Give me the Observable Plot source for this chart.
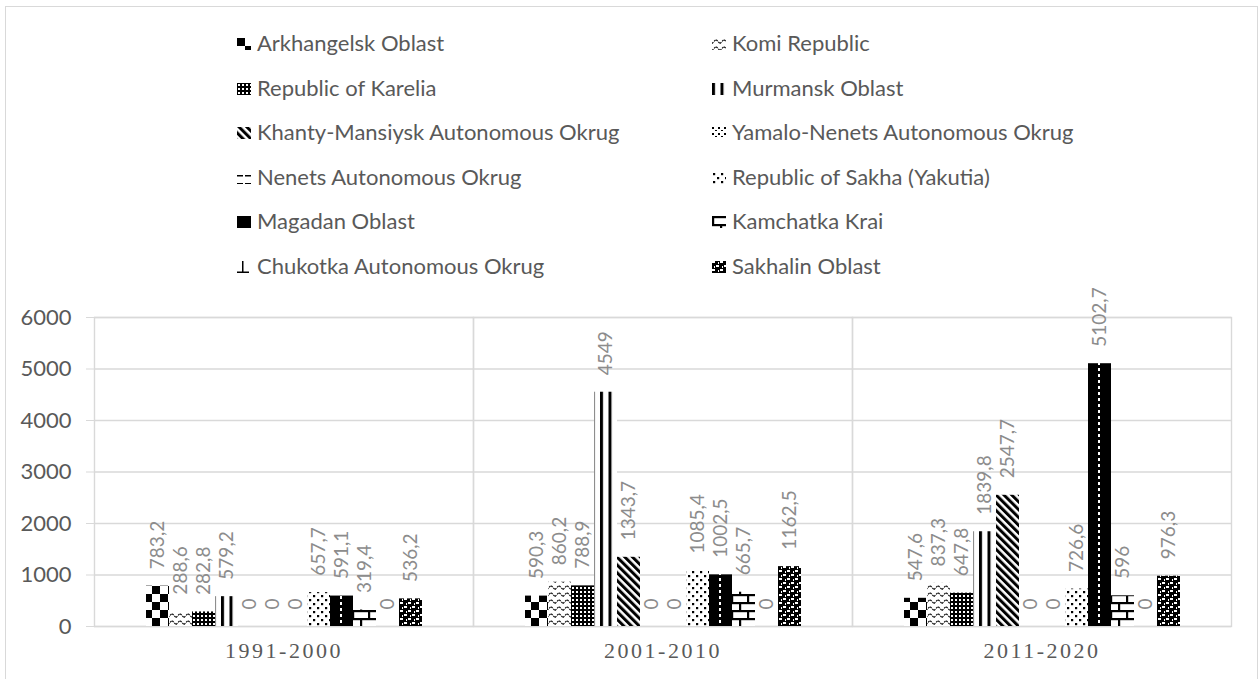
<!DOCTYPE html>
<html>
<head>
<meta charset="utf-8">
<script src="https://cdn.jsdelivr.net/npm/d3@7"></script>
<script src="https://cdn.jsdelivr.net/npm/@observablehq/plot@0.6"></script>
<style>
  html, body { margin: 0; padding: 0; background: #fff; overflow: hidden; }
  #frame { position: absolute; left: 5px; top: 6px; width: 1253px; height: 700px; border: 1.5px solid #d9d9d9; box-sizing: border-box; }
  #legend { position: absolute; left: 0; top: 0; width: 1260px; height: 290px; font-family: Lato, "Open Sans", sans-serif; color: #595959; }
  .item { position: absolute; white-space: nowrap; font-size: 22px; line-height: 1; }
  .item svg { position: absolute; }
  #chart { position: absolute; left: 0; top: 290px; }
  #chart [aria-label="fx-axis tick label"] text { letter-spacing: 2.5px; }
</style>
</head>
<body>
<div id="frame"></div>
<svg id="defs" width="0" height="0" style="position:absolute">
  <defs>
    <pattern id="pat0" patternUnits="userSpaceOnUse" width="16" height="16">
      <rect width="16" height="16" fill="#fff"/>
      <rect x="0" y="0" width="8" height="8" fill="#000"/>
      <rect x="8" y="8" width="8" height="8" fill="#000"/>
    </pattern>
    <pattern id="pat1" patternUnits="userSpaceOnUse" width="8" height="7">
      <rect width="8" height="7" fill="#fff"/>
      <path d="M0,5.5 L4,1.5 L8,5.5" fill="none" stroke="#000" stroke-width="1.1" stroke-dasharray="2,1"/>
    </pattern>
    <pattern id="pat2" patternUnits="userSpaceOnUse" width="4" height="4">
      <rect width="4" height="4" fill="#000"/>
      <rect x="1" y="1" width="2" height="2" fill="#fff"/>
    </pattern>
    <pattern id="pat3" patternUnits="userSpaceOnUse" width="8.5" height="8">
      <rect width="8.5" height="8" fill="#fff"/>
      <rect x="0" y="0" width="3" height="8" fill="#000"/>
    </pattern>
    <pattern id="pat4" patternUnits="userSpaceOnUse" width="5.5" height="10" patternTransform="rotate(-45)">
      <rect width="5.5" height="10" fill="#fff"/>
      <rect x="0" y="0" width="3" height="10" fill="#000"/>
    </pattern>
    <pattern id="pat5" patternUnits="userSpaceOnUse" width="6" height="6">
      <rect width="6" height="6" fill="#fff"/>
      <rect x="0" y="0" width="2" height="2" fill="#000"/>
      <rect x="3" y="3" width="2" height="1" fill="#000"/>
    </pattern>
    <pattern id="pat6" patternUnits="userSpaceOnUse" width="8" height="8">
      <rect width="8" height="8" fill="#fff"/>
      <rect x="0" y="3" width="6" height="1.5" fill="#000"/>
    </pattern>
    <pattern id="pat7" patternUnits="userSpaceOnUse" width="8" height="8">
      <rect width="8" height="8" fill="#fff"/>
      <rect x="1" y="1" width="2.2" height="2.2" fill="#000"/>
      <rect x="5" y="5" width="2.2" height="2.2" fill="#000"/>
    </pattern>
    <pattern id="pat8" patternUnits="userSpaceOnUse" width="18" height="6" x="16">
      <rect width="18" height="6" fill="#000"/>
      <rect x="0" y="0" width="2" height="3" fill="#fff"/>
    </pattern>
    <pattern id="pat9" patternUnits="userSpaceOnUse" width="16" height="16">
      <rect width="16" height="16" fill="#fff"/>
      <rect x="0" y="0" width="16" height="2.2" fill="#000"/>
      <rect x="0" y="8" width="16" height="2.2" fill="#000"/>
      <rect x="0" y="0" width="2.2" height="8" fill="#000"/>
      <rect x="8" y="8" width="2.2" height="8" fill="#000"/>
    </pattern>
    <pattern id="pat10" patternUnits="userSpaceOnUse" width="14" height="12">
      <rect width="14" height="12" fill="#fff"/>
      <rect x="5" y="0" width="1.5" height="11" fill="#000"/>
      <rect x="0" y="10.5" width="12" height="1.5" fill="#000"/>
    </pattern>
    <pattern id="pat11" patternUnits="userSpaceOnUse" width="8" height="8">
      <rect width="8" height="8" fill="#000"/>
      <rect x="0" y="0" width="3" height="2" fill="#fff"/>
      <rect x="4" y="4" width="3" height="2" fill="#fff"/>
      <rect x="6" y="1" width="1" height="2" fill="#fff"/>
      <rect x="2" y="5" width="1" height="2" fill="#fff"/>
    </pattern>
  </defs>
</svg>
<div id="legend"></div>
<div id="chart"></div>
<script>
const periods = ["1991-2000", "2001-2010", "2011-2020"];
const regions = [
  "Arkhangelsk Oblast", "Komi Republic", "Republic of Karelia", "Murmansk Oblast",
  "Khanty-Mansiysk Autonomous Okrug", "Yamalo-Nenets Autonomous Okrug",
  "Nenets Autonomous Okrug", "Republic of Sakha (Yakutia)", "Magadan Oblast",
  "Kamchatka Krai", "Chukotka Autonomous Okrug", "Sakhalin Oblast"
];
const values1991 = [783.2, 288.6, 282.8, 579.2, 0, 0, 0, 657.7, 591.1, 319.4, 0, 536.2];
const values2001 = [590.3, 860.2, 788.9, 4549, 1343.7, 0, 0, 1085.4, 1002.5, 665.7, 0, 1162.5];
const values2011 = [547.6, 837.3, 647.8, 1839.8, 2547.7, 0, 0, 726.6, 5102.7, 596, 0, 976.3];
const yTicks = [0, 1000, 2000, 3000, 4000, 5000, 6000];

const series = [values1991, values2001, values2011];
const data = [];
periods.forEach((p, pi) => regions.forEach((r, ri) => data.push({period: p, region: r, ri, value: series[pi][ri]})));
const fmt = v => String(v).replace(".", ",");

// Legend (two columns, row-major order)
const legend = d3.select("#legend");
regions.forEach((r, i) => {
  const col = i % 2, row = Math.floor(i / 2);
  const sx = col === 0 ? 237 : 712;
  const tx = col === 0 ? 257 : 732;
  const base = 52 + row * 44.5;
  const item = legend.append("div").attr("class", "item")
    .style("left", sx + "px").style("top", (base - 22) + "px").style("height", "26px");
  item.append("svg").attr("width", 14).attr("height", 12)
    .style("left", "0px").style("top", "8px")
    .append("rect").attr("width", 14).attr("height", 12).attr("fill", `url(#pat${i})`);
  item.append("span").style("position", "absolute").style("left", (tx - sx) + "px").style("top", "2px").text(r);
});

const marks = [
  Plot.gridY(yTicks, {stroke: "#d9d9d9", strokeOpacity: 1, strokeWidth: 1.4}),
  Plot.frame({stroke: "#d9d9d9", strokeWidth: 1.4}),
  Plot.axisY(yTicks, {tickSize: 8, stroke: "#d9d9d9", strokeOpacity: 1, color: "#595959", tickPadding: 15, fontSize: 22, fontFamily: "Lato, sans-serif", label: null, tickFormat: d => String(d)}),
  Plot.axisFx({anchor: "bottom", tickSize: 0, tickPadding: 16, fontSize: 22, fontFamily: "'Liberation Serif', serif", color: "#595959", label: null})
];
regions.forEach((r, i) => {
  marks.push(Plot.barY(data.filter(d => d.ri === i), {fx: "period", x: "region", y: "value", fill: `url(#pat${i})`, inset: 0}));
});
marks.push(Plot.text(data, {
  fx: "period", x: "region", y: "value", text: d => fmt(d.value),
  rotate: -90, textAnchor: "start", lineAnchor: "middle", dy: -17,
  fill: "#8c8c8c", fontSize: 19, fontFamily: "Lato, sans-serif"
}));

const chart = Plot.plot({
  width: 1260, height: 385,
  marginLeft: 94, marginRight: 29, marginTop: 27, marginBottom: 49,
  style: {background: "transparent", overflow: "visible"},
  fx: {domain: periods, padding: 0, label: null, axis: null},
  x: {domain: regions, paddingInner: 0, paddingOuter: 2.2, axis: null},
  y: {domain: [0, 6000], axis: null},
  marks
});
document.getElementById("chart").appendChild(chart);
</script>
</body>
</html>
